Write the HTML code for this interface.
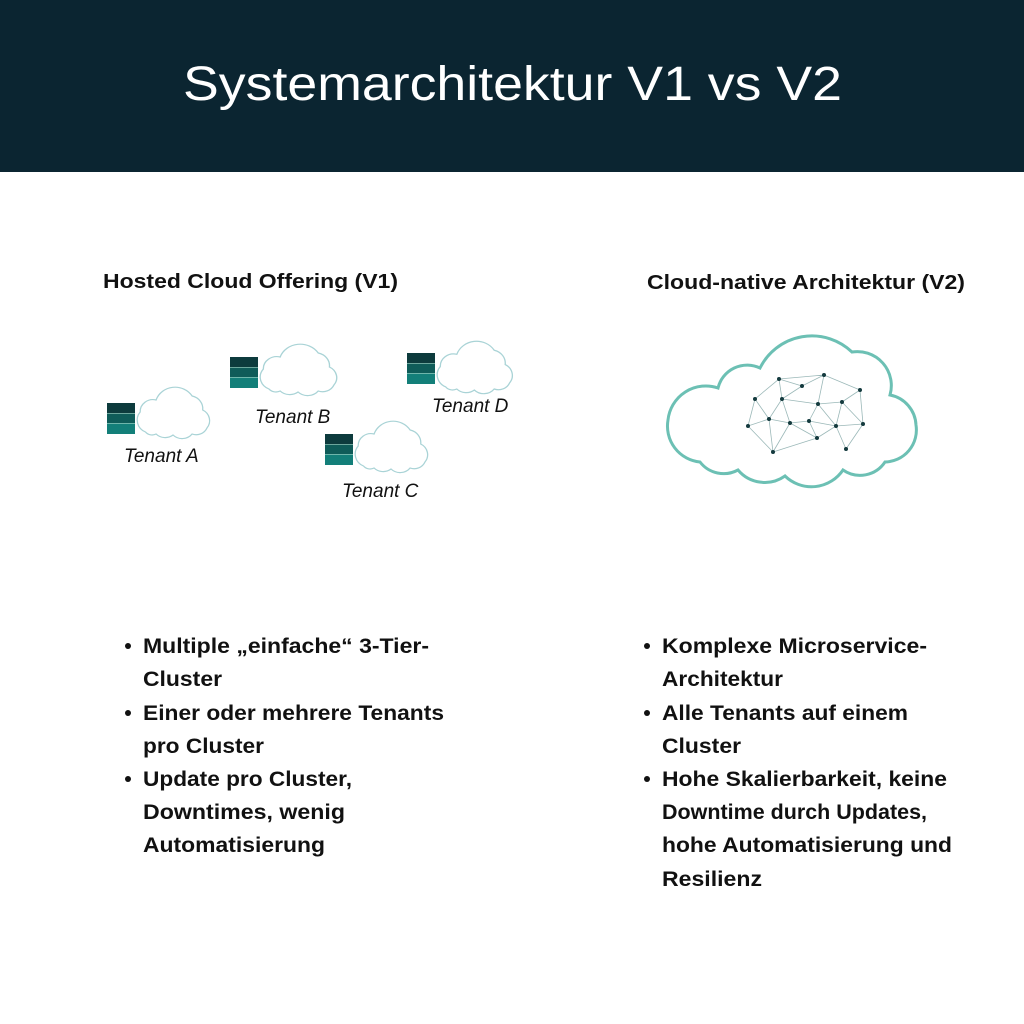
<!DOCTYPE html>
<html><head><meta charset="utf-8"><style>
html,body{margin:0;padding:0;background:#fff}
svg{display:block}
</style></head><body>
<svg width="1024" height="1024" viewBox="0 0 1024 1024" xmlns="http://www.w3.org/2000/svg" font-family="Liberation Sans, sans-serif">
<rect x="0" y="0" width="1024" height="172" fill="#0b2531"/>
<text x="183" y="100" font-size="48" fill="#fff" textLength="659" lengthAdjust="spacingAndGlyphs">Systemarchitektur V1 vs V2</text>

<text x="103" y="288" font-size="20" font-weight="bold" fill="#111" textLength="295" lengthAdjust="spacingAndGlyphs">Hosted Cloud Offering (V1)</text>
<text x="647" y="289" font-size="20" font-weight="bold" fill="#111" textLength="318" lengthAdjust="spacingAndGlyphs">Cloud-native Architektur (V2)</text>

<defs>
<g id="srv">
<rect x="0" y="0" width="28" height="11" fill="#0d3b3d"/>
<rect x="0" y="10.5" width="28" height="10.5" fill="#0f5c59"/>
<rect x="0" y="20.5" width="28" height="10.5" fill="#137f79"/>
<line x1="0" y1="10.5" x2="28" y2="10.5" stroke="#cfe" stroke-width="0.6"/>
<line x1="0" y1="20.5" x2="28" y2="20.5" stroke="#cfe" stroke-width="0.6"/>
</g>
<path id="cl" d="M8,48 A13 13 0 0 1 3,28 A12 12 0 0 1 18,16 A19 19 0 0 1 52,12 A13 13 0 0 1 62,26 A12 12 0 0 1 66,44 A11 11 0 0 1 52,50 A12 12 0 0 1 34,51 A12 12 0 0 1 18,50 A8 8 0 0 1 8,48 Z" fill="#fff" stroke="#a9d3d6" stroke-width="1.2"/>
</defs>

<use href="#cl" transform="translate(137,384) scale(1.06,1)"/>
<use href="#srv" x="107" y="403"/>
<text x="124" y="462" font-size="19" font-style="italic" fill="#111">Tenant A</text>
<use href="#cl" transform="translate(260,341) scale(1.12,1)"/>
<use href="#srv" x="230" y="357"/>
<text x="255" y="423" font-size="19" font-style="italic" fill="#111">Tenant B</text>
<use href="#cl" transform="translate(437,338) scale(1.1,1.02)"/>
<use href="#srv" x="407" y="353"/>
<text x="432" y="412" font-size="19" font-style="italic" fill="#111">Tenant D</text>
<use href="#cl" transform="translate(355,418) scale(1.06,1)"/>
<use href="#srv" x="325" y="434"/>
<text x="342" y="497" font-size="19" font-style="italic" fill="#111">Tenant C</text>

<path d="M700,462 A36 36 0 0 1 668,420 A38 38 0 0 1 718,388 A30 30 0 0 1 760,368 A58 58 0 0 1 852,352 A34 34 0 0 1 890,395 A32 32 0 0 1 916,425 A32 32 0 0 1 885,462 A30 30 0 0 1 843,470 A38 38 0 0 1 785,476 A35 35 0 0 1 738,470 A30 30 0 0 1 700,462 Z" fill="#fff" stroke="#6cc0b4" stroke-width="3"/>
<g stroke="#9bb8b8" stroke-width="0.8" fill="none">
<path d="M779,379 L824,375 M779,379 L802,386 M802,386 L824,375 M824,375 L818,404 M824,375 L860,390 M860,390 L842,402 M860,390 L863,424 M779,379 L755,399 M779,379 L782,399 M802,386 L782,399 M782,399 L818,404 M818,404 L842,402 M755,399 L769,419 M782,399 L769,419 M755,399 L748,426 M769,419 L748,426 M769,419 L790,423 M782,399 L790,423 M790,423 L809,421 M818,404 L809,421 M818,404 L836,426 M842,402 L836,426 M809,421 L836,426 M836,426 L863,424 M842,402 L863,424 M809,421 L817,438 M790,423 L817,438 M836,426 L817,438 M769,419 L773,452 M748,426 L773,452 M790,423 L773,452 M817,438 L773,452 M836,426 L846,449 M863,424 L846,449"/>
</g>
<g fill="#143a3e">
<circle cx="779" cy="379" r="2"/><circle cx="824" cy="375" r="2"/><circle cx="802" cy="386" r="2"/><circle cx="860" cy="390" r="2"/><circle cx="755" cy="399" r="2"/><circle cx="782" cy="399" r="2"/><circle cx="818" cy="404" r="2"/><circle cx="842" cy="402" r="2"/><circle cx="769" cy="419" r="2"/><circle cx="790" cy="423" r="2"/><circle cx="809" cy="421" r="2"/><circle cx="748" cy="426" r="2"/><circle cx="836" cy="426" r="2"/><circle cx="863" cy="424" r="2"/><circle cx="817" cy="438" r="2"/><circle cx="773" cy="452" r="2"/><circle cx="846" cy="449" r="2"/>
</g>

<g font-size="21" font-weight="bold" fill="#111" lengthAdjust="spacingAndGlyphs">
<circle cx="128" cy="646" r="3" fill="#111"/>
<text x="143" y="653" textLength="286" lengthAdjust="spacingAndGlyphs">Multiple „einfache“ 3-Tier-</text>
<text x="143" y="686" textLength="79" lengthAdjust="spacingAndGlyphs">Cluster</text>
<circle cx="128" cy="713" r="3" fill="#111"/>
<text x="143" y="720" textLength="301" lengthAdjust="spacingAndGlyphs">Einer oder mehrere Tenants</text>
<text x="143" y="753" textLength="121" lengthAdjust="spacingAndGlyphs">pro Cluster</text>
<circle cx="128" cy="779" r="3" fill="#111"/>
<text x="143" y="786" textLength="209" lengthAdjust="spacingAndGlyphs">Update pro Cluster,</text>
<text x="143" y="819" textLength="202" lengthAdjust="spacingAndGlyphs">Downtimes, wenig</text>
<text x="143" y="852" textLength="182" lengthAdjust="spacingAndGlyphs">Automatisierung</text>

<circle cx="647" cy="646" r="3" fill="#111"/>
<text x="662" y="653" textLength="265" lengthAdjust="spacingAndGlyphs">Komplexe Microservice-</text>
<text x="662" y="686" textLength="121" lengthAdjust="spacingAndGlyphs">Architektur</text>
<circle cx="647" cy="713" r="3" fill="#111"/>
<text x="662" y="720" textLength="246" lengthAdjust="spacingAndGlyphs">Alle Tenants auf einem</text>
<text x="662" y="753" textLength="79" lengthAdjust="spacingAndGlyphs">Cluster</text>
<circle cx="647" cy="779" r="3" fill="#111"/>
<text x="662" y="786" textLength="285" lengthAdjust="spacingAndGlyphs">Hohe Skalierbarkeit, keine</text>
<text x="662" y="819" textLength="265" lengthAdjust="spacingAndGlyphs">Downtime durch Updates,</text>
<text x="662" y="852" textLength="290" lengthAdjust="spacingAndGlyphs">hohe Automatisierung und</text>
<text x="662" y="886" textLength="100" lengthAdjust="spacingAndGlyphs">Resilienz</text>
</g>
</svg>
</body></html>
